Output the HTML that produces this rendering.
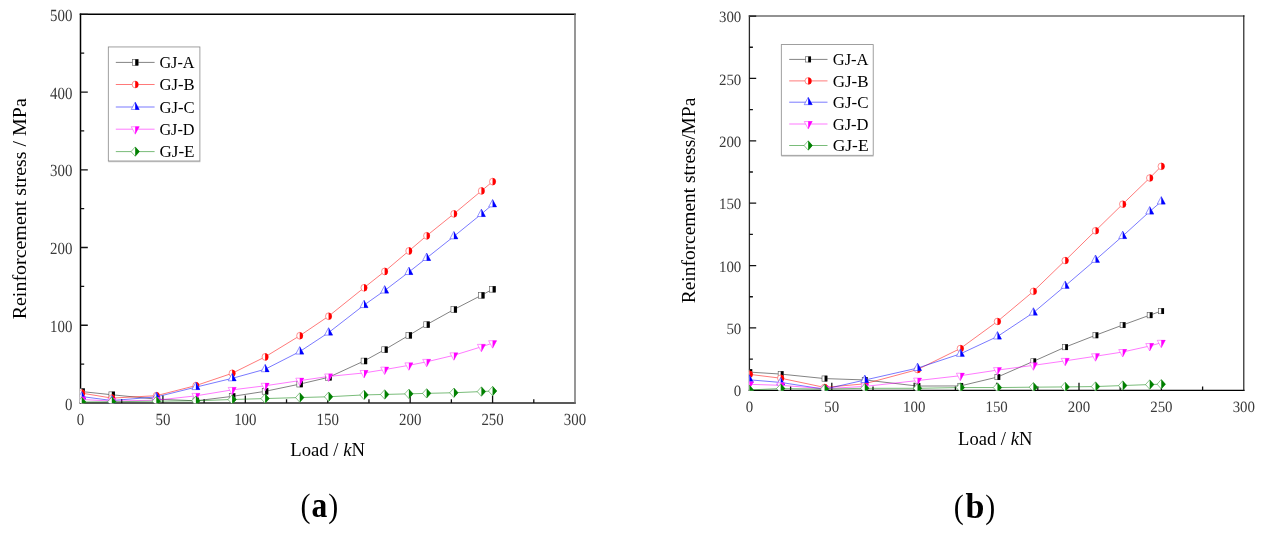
<!DOCTYPE html>
<html lang="en"><head><meta charset="utf-8"><title>Reinforcement stress vs load</title>
<style>html,body{margin:0;padding:0;background:#fff}svg{display:block}</style></head><body>
<svg width="1266" height="538" viewBox="0 0 1266 538">
<rect width="1266" height="538" fill="#fff"/>
<g id="chart-a">
<clipPath id="clipa"><rect x="79.95" y="14.3" width="495.05" height="389.05"/></clipPath>
<path d="M80.5 13.55V403.75" stroke="#000" stroke-width="1.5"/>
<path d="M79.75 403H575.75" stroke="#222" stroke-width="1.35"/>
<path d="M79.75 14.3H575.75" stroke="#000" stroke-width="1.5"/>
<path d="M575 13.55V403.75" stroke="#6a6a6a" stroke-width="1.4"/>
<path d="M121.71 403v-3.8M162.92 403v-7.6M204.12 403v-3.8M245.33 403v-7.6M286.54 403v-3.8M327.75 403v-7.6M368.96 403v-3.8M410.17 403v-7.6M451.38 403v-3.8M492.58 403v-7.6M533.79 403v-3.8M80.5 364.13h3.7M80.5 325.26h7.3M80.5 286.39h3.7M80.5 247.52h7.3M80.5 208.65h3.7M80.5 169.78h7.3M80.5 130.91h3.7M80.5 92.04h7.3M80.5 53.17h3.7M80.5 14.3h7.3" stroke="#111" stroke-width="1.3" fill="none"/>
<g clip-path="url(#clipa)">
<polyline points="81.74,391.57 111.82,394.76 156.32,399.11 195.88,400.82 232.15,396.39 265.11,391.34 299.73,384.11 328.57,377.35 364.01,361.02 384.62,349.67 408.85,335.37 426.65,324.64 453.85,309.56 481.37,295.33 492.58,289.27" fill="none" stroke="#000" stroke-opacity="0.7" stroke-width="0.7"/>
<rect x="78.84" y="388.67" width="5.8" height="5.8" fill="#fff" stroke="#555" stroke-width="0.6"/><rect x="81.74" y="388.47" width="3.1" height="6.2" fill="#000"/><rect x="108.92" y="391.86" width="5.8" height="5.8" fill="#fff" stroke="#555" stroke-width="0.6"/><rect x="111.82" y="391.66" width="3.1" height="6.2" fill="#000"/><rect x="153.42" y="396.21" width="5.8" height="5.8" fill="#fff" stroke="#555" stroke-width="0.6"/><rect x="156.32" y="396.01" width="3.1" height="6.2" fill="#000"/><rect x="192.98" y="397.92" width="5.8" height="5.8" fill="#fff" stroke="#555" stroke-width="0.6"/><rect x="195.88" y="397.72" width="3.1" height="6.2" fill="#000"/><rect x="229.25" y="393.49" width="5.8" height="5.8" fill="#fff" stroke="#555" stroke-width="0.6"/><rect x="232.15" y="393.29" width="3.1" height="6.2" fill="#000"/><rect x="262.21" y="388.44" width="5.8" height="5.8" fill="#fff" stroke="#555" stroke-width="0.6"/><rect x="265.11" y="388.24" width="3.1" height="6.2" fill="#000"/><rect x="296.83" y="381.21" width="5.8" height="5.8" fill="#fff" stroke="#555" stroke-width="0.6"/><rect x="299.73" y="381.01" width="3.1" height="6.2" fill="#000"/><rect x="325.67" y="374.45" width="5.8" height="5.8" fill="#fff" stroke="#555" stroke-width="0.6"/><rect x="328.57" y="374.25" width="3.1" height="6.2" fill="#000"/><rect x="361.11" y="358.12" width="5.8" height="5.8" fill="#fff" stroke="#555" stroke-width="0.6"/><rect x="364.01" y="357.92" width="3.1" height="6.2" fill="#000"/><rect x="381.72" y="346.77" width="5.8" height="5.8" fill="#fff" stroke="#555" stroke-width="0.6"/><rect x="384.62" y="346.57" width="3.1" height="6.2" fill="#000"/><rect x="405.95" y="332.47" width="5.8" height="5.8" fill="#fff" stroke="#555" stroke-width="0.6"/><rect x="408.85" y="332.27" width="3.1" height="6.2" fill="#000"/><rect x="423.75" y="321.74" width="5.8" height="5.8" fill="#fff" stroke="#555" stroke-width="0.6"/><rect x="426.65" y="321.54" width="3.1" height="6.2" fill="#000"/><rect x="450.95" y="306.66" width="5.8" height="5.8" fill="#fff" stroke="#555" stroke-width="0.6"/><rect x="453.85" y="306.46" width="3.1" height="6.2" fill="#000"/><rect x="478.47" y="292.43" width="5.8" height="5.8" fill="#fff" stroke="#555" stroke-width="0.6"/><rect x="481.37" y="292.23" width="3.1" height="6.2" fill="#000"/><rect x="489.68" y="286.37" width="5.8" height="5.8" fill="#fff" stroke="#555" stroke-width="0.6"/><rect x="492.58" y="286.17" width="3.1" height="6.2" fill="#000"/>
<polyline points="81.74,393.13 111.82,398.1 156.32,395.69 195.88,385.59 232.15,373.3 265.11,356.9 299.73,335.75 328.57,316.24 364.01,287.79 384.62,271.46 408.85,250.94 426.65,235.78 453.85,213.86 481.37,190.93 492.58,181.6" fill="none" stroke="#f00" stroke-opacity="0.7" stroke-width="0.75"/>
<ellipse cx="81.74" cy="393.13" rx="3.05" ry="3.4" fill="#fff" stroke="#ff4a4a" stroke-width="0.6"/><path d="M81.74 389.53A3.25 3.6 0 0 1 81.74 396.73Z" fill="#f00"/><ellipse cx="111.82" cy="398.1" rx="3.05" ry="3.4" fill="#fff" stroke="#ff4a4a" stroke-width="0.6"/><path d="M111.82 394.5A3.25 3.6 0 0 1 111.82 401.7Z" fill="#f00"/><ellipse cx="156.32" cy="395.69" rx="3.05" ry="3.4" fill="#fff" stroke="#ff4a4a" stroke-width="0.6"/><path d="M156.32 392.09A3.25 3.6 0 0 1 156.32 399.29Z" fill="#f00"/><ellipse cx="195.88" cy="385.59" rx="3.05" ry="3.4" fill="#fff" stroke="#ff4a4a" stroke-width="0.6"/><path d="M195.88 381.99A3.25 3.6 0 0 1 195.88 389.19Z" fill="#f00"/><ellipse cx="232.15" cy="373.3" rx="3.05" ry="3.4" fill="#fff" stroke="#ff4a4a" stroke-width="0.6"/><path d="M232.15 369.7A3.25 3.6 0 0 1 232.15 376.9Z" fill="#f00"/><ellipse cx="265.11" cy="356.9" rx="3.05" ry="3.4" fill="#fff" stroke="#ff4a4a" stroke-width="0.6"/><path d="M265.11 353.3A3.25 3.6 0 0 1 265.11 360.5Z" fill="#f00"/><ellipse cx="299.73" cy="335.75" rx="3.05" ry="3.4" fill="#fff" stroke="#ff4a4a" stroke-width="0.6"/><path d="M299.73 332.15A3.25 3.6 0 0 1 299.73 339.35Z" fill="#f00"/><ellipse cx="328.57" cy="316.24" rx="3.05" ry="3.4" fill="#fff" stroke="#ff4a4a" stroke-width="0.6"/><path d="M328.57 312.64A3.25 3.6 0 0 1 328.57 319.84Z" fill="#f00"/><ellipse cx="364.01" cy="287.79" rx="3.05" ry="3.4" fill="#fff" stroke="#ff4a4a" stroke-width="0.6"/><path d="M364.01 284.19A3.25 3.6 0 0 1 364.01 291.39Z" fill="#f00"/><ellipse cx="384.62" cy="271.46" rx="3.05" ry="3.4" fill="#fff" stroke="#ff4a4a" stroke-width="0.6"/><path d="M384.62 267.86A3.25 3.6 0 0 1 384.62 275.06Z" fill="#f00"/><ellipse cx="408.85" cy="250.94" rx="3.05" ry="3.4" fill="#fff" stroke="#ff4a4a" stroke-width="0.6"/><path d="M408.85 247.34A3.25 3.6 0 0 1 408.85 254.54Z" fill="#f00"/><ellipse cx="426.65" cy="235.78" rx="3.05" ry="3.4" fill="#fff" stroke="#ff4a4a" stroke-width="0.6"/><path d="M426.65 232.18A3.25 3.6 0 0 1 426.65 239.38Z" fill="#f00"/><ellipse cx="453.85" cy="213.86" rx="3.05" ry="3.4" fill="#fff" stroke="#ff4a4a" stroke-width="0.6"/><path d="M453.85 210.26A3.25 3.6 0 0 1 453.85 217.46Z" fill="#f00"/><ellipse cx="481.37" cy="190.93" rx="3.05" ry="3.4" fill="#fff" stroke="#ff4a4a" stroke-width="0.6"/><path d="M481.37 187.33A3.25 3.6 0 0 1 481.37 194.53Z" fill="#f00"/><ellipse cx="492.58" cy="181.6" rx="3.05" ry="3.4" fill="#fff" stroke="#ff4a4a" stroke-width="0.6"/><path d="M492.58 178A3.25 3.6 0 0 1 492.58 185.2Z" fill="#f00"/>
<polyline points="81.74,396.55 111.82,400.51 156.32,396.94 195.88,387.14 232.15,378.35 265.11,369.25 299.73,351.61 328.57,332.64 364.01,305.12 384.62,290.58 408.85,272.08 426.65,258.01 453.85,236.4 481.37,214.09 492.58,204.45" fill="none" stroke="#00f" stroke-opacity="0.7" stroke-width="0.75"/>
<path d="M81.74 391.61L85.69 399.01L77.79 399.01Z" fill="#fff" stroke="#4a4aff" stroke-width="0.6"/><path d="M81.74 391.31L85.99 399.21L81.74 399.21Z" fill="#00f"/><path d="M111.82 395.58L115.77 402.98L107.87 402.98Z" fill="#fff" stroke="#4a4aff" stroke-width="0.6"/><path d="M111.82 395.28L116.07 403.18L111.82 403.18Z" fill="#00f"/><path d="M156.32 392L160.27 399.4L152.37 399.4Z" fill="#fff" stroke="#4a4aff" stroke-width="0.6"/><path d="M156.32 391.7L160.57 399.6L156.32 399.6Z" fill="#00f"/><path d="M195.88 382.21L199.83 389.61L191.93 389.61Z" fill="#fff" stroke="#4a4aff" stroke-width="0.6"/><path d="M195.88 381.91L200.13 389.81L195.88 389.81Z" fill="#00f"/><path d="M232.15 373.42L236.1 380.82L228.2 380.82Z" fill="#fff" stroke="#4a4aff" stroke-width="0.6"/><path d="M232.15 373.12L236.4 381.02L232.15 381.02Z" fill="#00f"/><path d="M265.11 364.32L269.06 371.72L261.16 371.72Z" fill="#fff" stroke="#4a4aff" stroke-width="0.6"/><path d="M265.11 364.02L269.36 371.92L265.11 371.92Z" fill="#00f"/><path d="M299.73 346.67L303.68 354.07L295.78 354.07Z" fill="#fff" stroke="#4a4aff" stroke-width="0.6"/><path d="M299.73 346.37L303.98 354.27L299.73 354.27Z" fill="#00f"/><path d="M328.57 327.71L332.52 335.11L324.62 335.11Z" fill="#fff" stroke="#4a4aff" stroke-width="0.6"/><path d="M328.57 327.41L332.82 335.31L328.57 335.31Z" fill="#00f"/><path d="M364.01 300.19L367.96 307.59L360.06 307.59Z" fill="#fff" stroke="#4a4aff" stroke-width="0.6"/><path d="M364.01 299.89L368.26 307.79L364.01 307.79Z" fill="#00f"/><path d="M384.62 285.65L388.57 293.05L380.67 293.05Z" fill="#fff" stroke="#4a4aff" stroke-width="0.6"/><path d="M384.62 285.35L388.87 293.25L384.62 293.25Z" fill="#00f"/><path d="M408.85 267.15L412.8 274.55L404.9 274.55Z" fill="#fff" stroke="#4a4aff" stroke-width="0.6"/><path d="M408.85 266.85L413.1 274.75L408.85 274.75Z" fill="#00f"/><path d="M426.65 253.07L430.6 260.47L422.7 260.47Z" fill="#fff" stroke="#4a4aff" stroke-width="0.6"/><path d="M426.65 252.77L430.9 260.67L426.65 260.67Z" fill="#00f"/><path d="M453.85 231.46L457.8 238.86L449.9 238.86Z" fill="#fff" stroke="#4a4aff" stroke-width="0.6"/><path d="M453.85 231.16L458.1 239.06L453.85 239.06Z" fill="#00f"/><path d="M481.37 209.15L485.32 216.55L477.42 216.55Z" fill="#fff" stroke="#4a4aff" stroke-width="0.6"/><path d="M481.37 208.85L485.62 216.75L481.37 216.75Z" fill="#00f"/><path d="M492.58 199.51L496.53 206.91L488.63 206.91Z" fill="#fff" stroke="#4a4aff" stroke-width="0.6"/><path d="M492.58 199.21L496.83 207.11L492.58 207.11Z" fill="#00f"/>
<polyline points="81.74,399.5 111.82,401.06 156.32,400.2 195.88,395.85 232.15,389.89 265.11,385.77 299.73,380.64 328.57,376.45 364.01,372.95 384.62,369.6 408.85,365.33 426.65,361.83 453.85,355.3 481.37,346.83 492.58,343.17" fill="none" stroke="#f0f" stroke-opacity="0.7" stroke-width="0.75"/>
<path d="M81.74 404.44L85.69 397.04L77.79 397.04Z" fill="#fff" stroke="#ff4aff" stroke-width="0.6"/><path d="M81.74 404.74L85.99 396.84L81.74 396.84Z" fill="#f0f"/><path d="M111.82 405.99L115.77 398.59L107.87 398.59Z" fill="#fff" stroke="#ff4aff" stroke-width="0.6"/><path d="M111.82 406.29L116.07 398.39L111.82 398.39Z" fill="#f0f"/><path d="M156.32 405.13L160.27 397.73L152.37 397.73Z" fill="#fff" stroke="#ff4aff" stroke-width="0.6"/><path d="M156.32 405.43L160.57 397.53L156.32 397.53Z" fill="#f0f"/><path d="M195.88 400.78L199.83 393.38L191.93 393.38Z" fill="#fff" stroke="#ff4aff" stroke-width="0.6"/><path d="M195.88 401.08L200.13 393.18L195.88 393.18Z" fill="#f0f"/><path d="M232.15 394.83L236.1 387.43L228.2 387.43Z" fill="#fff" stroke="#ff4aff" stroke-width="0.6"/><path d="M232.15 395.13L236.4 387.23L232.15 387.23Z" fill="#f0f"/><path d="M265.11 390.71L269.06 383.31L261.16 383.31Z" fill="#fff" stroke="#ff4aff" stroke-width="0.6"/><path d="M265.11 391.01L269.36 383.11L265.11 383.11Z" fill="#f0f"/><path d="M299.73 385.58L303.68 378.18L295.78 378.18Z" fill="#fff" stroke="#ff4aff" stroke-width="0.6"/><path d="M299.73 385.88L303.98 377.98L299.73 377.98Z" fill="#f0f"/><path d="M328.57 381.38L332.52 373.98L324.62 373.98Z" fill="#fff" stroke="#ff4aff" stroke-width="0.6"/><path d="M328.57 381.68L332.82 373.78L328.57 373.78Z" fill="#f0f"/><path d="M364.01 377.88L367.96 370.48L360.06 370.48Z" fill="#fff" stroke="#ff4aff" stroke-width="0.6"/><path d="M364.01 378.18L368.26 370.28L364.01 370.28Z" fill="#f0f"/><path d="M384.62 374.54L388.57 367.14L380.67 367.14Z" fill="#fff" stroke="#ff4aff" stroke-width="0.6"/><path d="M384.62 374.84L388.87 366.94L384.62 366.94Z" fill="#f0f"/><path d="M408.85 370.26L412.8 362.86L404.9 362.86Z" fill="#fff" stroke="#ff4aff" stroke-width="0.6"/><path d="M408.85 370.56L413.1 362.66L408.85 362.66Z" fill="#f0f"/><path d="M426.65 366.76L430.6 359.36L422.7 359.36Z" fill="#fff" stroke="#ff4aff" stroke-width="0.6"/><path d="M426.65 367.06L430.9 359.16L426.65 359.16Z" fill="#f0f"/><path d="M453.85 360.23L457.8 352.83L449.9 352.83Z" fill="#fff" stroke="#ff4aff" stroke-width="0.6"/><path d="M453.85 360.53L458.1 352.63L453.85 352.63Z" fill="#f0f"/><path d="M481.37 351.76L485.32 344.36L477.42 344.36Z" fill="#fff" stroke="#ff4aff" stroke-width="0.6"/><path d="M481.37 352.06L485.62 344.16L481.37 344.16Z" fill="#f0f"/><path d="M492.58 348.11L496.53 340.71L488.63 340.71Z" fill="#fff" stroke="#ff4aff" stroke-width="0.6"/><path d="M492.58 348.41L496.83 340.51L492.58 340.51Z" fill="#f0f"/>
<polyline points="81.74,401.99 111.82,401.76 156.32,401.13 195.88,400.82 232.15,399.5 265.11,398.57 299.73,397.56 328.57,396.78 364.01,394.92 384.62,394.45 408.85,393.83 426.65,393.36 453.85,392.74 481.37,391.57 492.58,391.03" fill="none" stroke="#008000" stroke-opacity="0.7" stroke-width="0.75"/>
<path d="M81.74 397.34L85.89 401.99L81.74 406.64L77.59 401.99Z" fill="#fff" stroke="#3f9a3f" stroke-width="0.6"/><path d="M81.74 397.04L86.19 401.99L81.74 406.94Z" fill="#008000"/><path d="M111.82 397.11L115.97 401.76L111.82 406.41L107.67 401.76Z" fill="#fff" stroke="#3f9a3f" stroke-width="0.6"/><path d="M111.82 396.81L116.27 401.76L111.82 406.71Z" fill="#008000"/><path d="M156.32 396.48L160.47 401.13L156.32 405.78L152.17 401.13Z" fill="#fff" stroke="#3f9a3f" stroke-width="0.6"/><path d="M156.32 396.18L160.77 401.13L156.32 406.08Z" fill="#008000"/><path d="M195.88 396.17L200.03 400.82L195.88 405.47L191.73 400.82Z" fill="#fff" stroke="#3f9a3f" stroke-width="0.6"/><path d="M195.88 395.87L200.33 400.82L195.88 405.77Z" fill="#008000"/><path d="M232.15 394.85L236.3 399.5L232.15 404.15L228 399.5Z" fill="#fff" stroke="#3f9a3f" stroke-width="0.6"/><path d="M232.15 394.55L236.6 399.5L232.15 404.45Z" fill="#008000"/><path d="M265.11 393.92L269.26 398.57L265.11 403.22L260.96 398.57Z" fill="#fff" stroke="#3f9a3f" stroke-width="0.6"/><path d="M265.11 393.62L269.56 398.57L265.11 403.52Z" fill="#008000"/><path d="M299.73 392.91L303.88 397.56L299.73 402.21L295.58 397.56Z" fill="#fff" stroke="#3f9a3f" stroke-width="0.6"/><path d="M299.73 392.61L304.18 397.56L299.73 402.51Z" fill="#008000"/><path d="M328.57 392.13L332.72 396.78L328.57 401.43L324.42 396.78Z" fill="#fff" stroke="#3f9a3f" stroke-width="0.6"/><path d="M328.57 391.83L333.02 396.78L328.57 401.73Z" fill="#008000"/><path d="M364.01 390.27L368.16 394.92L364.01 399.57L359.86 394.92Z" fill="#fff" stroke="#3f9a3f" stroke-width="0.6"/><path d="M364.01 389.97L368.46 394.92L364.01 399.87Z" fill="#008000"/><path d="M384.62 389.8L388.77 394.45L384.62 399.1L380.47 394.45Z" fill="#fff" stroke="#3f9a3f" stroke-width="0.6"/><path d="M384.62 389.5L389.07 394.45L384.62 399.4Z" fill="#008000"/><path d="M408.85 389.18L413 393.83L408.85 398.48L404.7 393.83Z" fill="#fff" stroke="#3f9a3f" stroke-width="0.6"/><path d="M408.85 388.88L413.3 393.83L408.85 398.78Z" fill="#008000"/><path d="M426.65 388.71L430.8 393.36L426.65 398.01L422.5 393.36Z" fill="#fff" stroke="#3f9a3f" stroke-width="0.6"/><path d="M426.65 388.41L431.1 393.36L426.65 398.31Z" fill="#008000"/><path d="M453.85 388.09L458 392.74L453.85 397.39L449.7 392.74Z" fill="#fff" stroke="#3f9a3f" stroke-width="0.6"/><path d="M453.85 387.79L458.3 392.74L453.85 397.69Z" fill="#008000"/><path d="M481.37 386.92L485.52 391.57L481.37 396.22L477.22 391.57Z" fill="#fff" stroke="#3f9a3f" stroke-width="0.6"/><path d="M481.37 386.62L485.82 391.57L481.37 396.52Z" fill="#008000"/><path d="M492.58 386.38L496.73 391.03L492.58 395.68L488.43 391.03Z" fill="#fff" stroke="#3f9a3f" stroke-width="0.6"/><path d="M492.58 386.08L497.03 391.03L492.58 395.98Z" fill="#008000"/>
</g>
<g font-family="Liberation Serif, serif" font-size="16" fill="#3a3a3a" text-rendering="geometricPrecision">
<text transform="translate(80.5 425.1) scale(0.931 1.063)" text-anchor="middle">0</text>
<text transform="translate(162.92 425.1) scale(0.931 1.063)" text-anchor="middle">50</text>
<text transform="translate(245.33 425.1) scale(0.931 1.063)" text-anchor="middle">100</text>
<text transform="translate(327.75 425.1) scale(0.931 1.063)" text-anchor="middle">150</text>
<text transform="translate(410.17 425.1) scale(0.931 1.063)" text-anchor="middle">200</text>
<text transform="translate(492.58 425.1) scale(0.931 1.063)" text-anchor="middle">250</text>
<text transform="translate(575 425.1) scale(0.931 1.063)" text-anchor="middle">300</text>
<text transform="translate(72.4 409.55) scale(0.931 1.063)" text-anchor="end">0</text>
<text transform="translate(72.4 331.81) scale(0.931 1.063)" text-anchor="end">100</text>
<text transform="translate(72.4 254.07) scale(0.931 1.063)" text-anchor="end">200</text>
<text transform="translate(72.4 176.33) scale(0.931 1.063)" text-anchor="end">300</text>
<text transform="translate(72.4 98.59) scale(0.931 1.063)" text-anchor="end">400</text>
<text transform="translate(72.4 20.85) scale(0.931 1.063)" text-anchor="end">500</text>
</g>
<rect x="108.3" y="46.95" width="91.6" height="114.05" fill="#fff" stroke="#888" stroke-width="0.8"/>
<path d="M108.3 161.7H200.3" fill="none" stroke="#aaa" stroke-width="0.9"/>
<g font-family="Liberation Serif, serif" font-size="17.4" fill="#000">
<path d="M115.8 62.4H154.6" stroke="#000" stroke-opacity="0.7" stroke-width="0.7"/>
<rect x="132.3" y="59.5" width="5.8" height="5.8" fill="#fff" stroke="#555" stroke-width="0.6"/><rect x="135.2" y="59.3" width="3.1" height="6.2" fill="#000"/>
<text x="159.4" y="68.1" textLength="35.2" lengthAdjust="spacingAndGlyphs">GJ-A</text>
<path d="M115.8 84.5H154.6" stroke="#f00" stroke-opacity="0.7" stroke-width="0.75"/>
<ellipse cx="135.2" cy="84.5" rx="3.05" ry="3.4" fill="#fff" stroke="#ff4a4a" stroke-width="0.6"/><path d="M135.2 80.9A3.25 3.6 0 0 1 135.2 88.1Z" fill="#f00"/>
<text x="159.4" y="90.2" textLength="35.2" lengthAdjust="spacingAndGlyphs">GJ-B</text>
<path d="M115.8 107H154.6" stroke="#00f" stroke-opacity="0.7" stroke-width="0.75"/>
<path d="M135.2 102.07L139.15 109.47L131.25 109.47Z" fill="#fff" stroke="#4a4aff" stroke-width="0.6"/><path d="M135.2 101.77L139.45 109.67L135.2 109.67Z" fill="#00f"/>
<text x="159.4" y="112.7" textLength="35.2" lengthAdjust="spacingAndGlyphs">GJ-C</text>
<path d="M115.8 129.2H154.6" stroke="#f0f" stroke-opacity="0.7" stroke-width="0.75"/>
<path d="M135.2 134.13L139.15 126.73L131.25 126.73Z" fill="#fff" stroke="#ff4aff" stroke-width="0.6"/><path d="M135.2 134.43L139.45 126.53L135.2 126.53Z" fill="#f0f"/>
<text x="159.4" y="134.9" textLength="35.2" lengthAdjust="spacingAndGlyphs">GJ-D</text>
<path d="M115.8 151.6H154.6" stroke="#008000" stroke-opacity="0.7" stroke-width="0.75"/>
<path d="M135.2 146.95L139.35 151.6L135.2 156.25L131.05 151.6Z" fill="#fff" stroke="#3f9a3f" stroke-width="0.6"/><path d="M135.2 146.65L139.65 151.6L135.2 156.55Z" fill="#008000"/>
<text x="159.4" y="157.3" textLength="35.2" lengthAdjust="spacingAndGlyphs">GJ-E</text>
</g>
<text transform="translate(25.6 319.3) rotate(-90)" font-family="Liberation Serif, serif" font-size="18.8" fill="#000" textLength="221.1" lengthAdjust="spacingAndGlyphs" xml:space="preserve">Reinforcement stress / MPa</text>
<text x="290.3" y="455.6" font-family="Liberation Serif, serif" font-size="19" fill="#000" textLength="74.7" lengthAdjust="spacingAndGlyphs" xml:space="preserve">Load / <tspan font-style="italic">k</tspan>N</text>
<g font-family="Liberation Serif, serif" fill="#000"><text x="300.4" y="517.4" font-size="34" textLength="10" lengthAdjust="spacingAndGlyphs">(</text><text x="311.6" y="517.4" font-size="36" font-weight="bold" textLength="15.8" lengthAdjust="spacingAndGlyphs">a</text><text x="328.3" y="517.4" font-size="34" textLength="10" lengthAdjust="spacingAndGlyphs">)</text></g>
</g>
<g id="chart-b">
<clipPath id="clipb"><rect x="748.85" y="16.05" width="494.95" height="374.6"/></clipPath>
<path d="M749.4 15.35V391" stroke="#2a2a2a" stroke-width="1.3"/>
<path d="M748.7 390.3H1244.5" stroke="#000" stroke-width="1.25"/>
<path d="M748.7 16.05H1244.5" stroke="#6e6e6e" stroke-width="1.4"/>
<path d="M1243.8 15.35V391" stroke="#111" stroke-width="1.1"/>
<path d="M790.6 390.3v-3.8M831.8 390.3v-7.6M873 390.3v-3.8M914.2 390.3v-7.6M955.4 390.3v-3.8M996.6 390.3v-7.6M1037.8 390.3v-3.8M1079 390.3v-7.6M1120.2 390.3v-3.8M1161.4 390.3v-7.6M1202.6 390.3v-3.8M749.4 359.11h3.5M749.4 327.93h6.8M749.4 296.74h3.5M749.4 265.55h6.8M749.4 234.36h3.5M749.4 203.18h6.8M749.4 171.99h3.5M749.4 140.8h6.8M749.4 109.61h3.5M749.4 78.43h6.8M749.4 47.24h3.5M749.4 16.05h6.8" stroke="#111" stroke-width="1.3" fill="none"/>
<g clip-path="url(#clipb)">
<polyline points="749.4,372.09 780.71,374.08 824.55,378.57 864.76,379.95 917.5,386.06 960.34,385.93 997.42,377.08 1033.35,361.36 1065.16,347.14 1095.48,335.29 1122.67,325.06 1149.7,315.2 1161.24,311.08" fill="none" stroke="#000" stroke-opacity="0.7" stroke-width="0.7"/>
<rect x="746.85" y="369.44" width="5.1" height="5.3" fill="#fff" stroke="#555" stroke-width="0.6"/><rect x="749.4" y="369.24" width="2.75" height="5.7" fill="#000"/><rect x="778.16" y="371.43" width="5.1" height="5.3" fill="#fff" stroke="#555" stroke-width="0.6"/><rect x="780.71" y="371.23" width="2.75" height="5.7" fill="#000"/><rect x="822" y="375.92" width="5.1" height="5.3" fill="#fff" stroke="#555" stroke-width="0.6"/><rect x="824.55" y="375.72" width="2.75" height="5.7" fill="#000"/><rect x="862.21" y="377.3" width="5.1" height="5.3" fill="#fff" stroke="#555" stroke-width="0.6"/><rect x="864.76" y="377.1" width="2.75" height="5.7" fill="#000"/><rect x="914.95" y="383.41" width="5.1" height="5.3" fill="#fff" stroke="#555" stroke-width="0.6"/><rect x="917.5" y="383.21" width="2.75" height="5.7" fill="#000"/><rect x="957.79" y="383.28" width="5.1" height="5.3" fill="#fff" stroke="#555" stroke-width="0.6"/><rect x="960.34" y="383.08" width="2.75" height="5.7" fill="#000"/><rect x="994.87" y="374.43" width="5.1" height="5.3" fill="#fff" stroke="#555" stroke-width="0.6"/><rect x="997.42" y="374.23" width="2.75" height="5.7" fill="#000"/><rect x="1030.8" y="358.71" width="5.1" height="5.3" fill="#fff" stroke="#555" stroke-width="0.6"/><rect x="1033.35" y="358.51" width="2.75" height="5.7" fill="#000"/><rect x="1062.61" y="344.49" width="5.1" height="5.3" fill="#fff" stroke="#555" stroke-width="0.6"/><rect x="1065.16" y="344.29" width="2.75" height="5.7" fill="#000"/><rect x="1092.93" y="332.64" width="5.1" height="5.3" fill="#fff" stroke="#555" stroke-width="0.6"/><rect x="1095.48" y="332.44" width="2.75" height="5.7" fill="#000"/><rect x="1120.12" y="322.41" width="5.1" height="5.3" fill="#fff" stroke="#555" stroke-width="0.6"/><rect x="1122.67" y="322.21" width="2.75" height="5.7" fill="#000"/><rect x="1147.15" y="312.55" width="5.1" height="5.3" fill="#fff" stroke="#555" stroke-width="0.6"/><rect x="1149.7" y="312.35" width="2.75" height="5.7" fill="#000"/><rect x="1158.69" y="308.43" width="5.1" height="5.3" fill="#fff" stroke="#555" stroke-width="0.6"/><rect x="1161.24" y="308.23" width="2.75" height="5.7" fill="#000"/>
<polyline points="749.4,374.33 780.71,378.2 824.55,387.43 864.76,383.81 917.5,369.59 960.34,348.51 997.42,321.44 1033.35,291.37 1065.16,260.56 1095.48,230.74 1122.67,204.17 1149.7,177.98 1161.24,166.37" fill="none" stroke="#f00" stroke-opacity="0.7" stroke-width="0.75"/>
<ellipse cx="749.4" cy="374.33" rx="3.2" ry="3.3" fill="#fff" stroke="#ff4a4a" stroke-width="0.6"/><path d="M749.4 370.83A3.4000000000000004 3.5 0 0 1 749.4 377.83Z" fill="#f00"/><ellipse cx="780.71" cy="378.2" rx="3.2" ry="3.3" fill="#fff" stroke="#ff4a4a" stroke-width="0.6"/><path d="M780.71 374.7A3.4000000000000004 3.5 0 0 1 780.71 381.7Z" fill="#f00"/><ellipse cx="824.55" cy="387.43" rx="3.2" ry="3.3" fill="#fff" stroke="#ff4a4a" stroke-width="0.6"/><path d="M824.55 383.93A3.4000000000000004 3.5 0 0 1 824.55 390.93Z" fill="#f00"/><ellipse cx="864.76" cy="383.81" rx="3.2" ry="3.3" fill="#fff" stroke="#ff4a4a" stroke-width="0.6"/><path d="M864.76 380.31A3.4000000000000004 3.5 0 0 1 864.76 387.31Z" fill="#f00"/><ellipse cx="917.5" cy="369.59" rx="3.2" ry="3.3" fill="#fff" stroke="#ff4a4a" stroke-width="0.6"/><path d="M917.5 366.09A3.4000000000000004 3.5 0 0 1 917.5 373.09Z" fill="#f00"/><ellipse cx="960.34" cy="348.51" rx="3.2" ry="3.3" fill="#fff" stroke="#ff4a4a" stroke-width="0.6"/><path d="M960.34 345.01A3.4000000000000004 3.5 0 0 1 960.34 352.01Z" fill="#f00"/><ellipse cx="997.42" cy="321.44" rx="3.2" ry="3.3" fill="#fff" stroke="#ff4a4a" stroke-width="0.6"/><path d="M997.42 317.94A3.4000000000000004 3.5 0 0 1 997.42 324.94Z" fill="#f00"/><ellipse cx="1033.35" cy="291.37" rx="3.2" ry="3.3" fill="#fff" stroke="#ff4a4a" stroke-width="0.6"/><path d="M1033.35 287.87A3.4000000000000004 3.5 0 0 1 1033.35 294.87Z" fill="#f00"/><ellipse cx="1065.16" cy="260.56" rx="3.2" ry="3.3" fill="#fff" stroke="#ff4a4a" stroke-width="0.6"/><path d="M1065.16 257.06A3.4000000000000004 3.5 0 0 1 1065.16 264.06Z" fill="#f00"/><ellipse cx="1095.48" cy="230.74" rx="3.2" ry="3.3" fill="#fff" stroke="#ff4a4a" stroke-width="0.6"/><path d="M1095.48 227.24A3.4000000000000004 3.5 0 0 1 1095.48 234.24Z" fill="#f00"/><ellipse cx="1122.67" cy="204.17" rx="3.2" ry="3.3" fill="#fff" stroke="#ff4a4a" stroke-width="0.6"/><path d="M1122.67 200.67A3.4000000000000004 3.5 0 0 1 1122.67 207.67Z" fill="#f00"/><ellipse cx="1149.7" cy="177.98" rx="3.2" ry="3.3" fill="#fff" stroke="#ff4a4a" stroke-width="0.6"/><path d="M1149.7 174.48A3.4000000000000004 3.5 0 0 1 1149.7 181.48Z" fill="#f00"/><ellipse cx="1161.24" cy="166.37" rx="3.2" ry="3.3" fill="#fff" stroke="#ff4a4a" stroke-width="0.6"/><path d="M1161.24 162.87A3.4000000000000004 3.5 0 0 1 1161.24 169.87Z" fill="#f00"/>
<polyline points="749.4,379.82 780.71,382.44 824.55,389.18 864.76,380.06 917.5,368.09 960.34,353.86 997.42,336.52 1033.35,312.7 1065.16,285.88 1095.48,259.93 1122.67,236.1 1149.7,211.52 1161.24,201.54" fill="none" stroke="#00f" stroke-opacity="0.7" stroke-width="0.75"/>
<path d="M749.4 374.89L753.35 382.29L745.45 382.29Z" fill="#fff" stroke="#4a4aff" stroke-width="0.6"/><path d="M749.4 374.59L753.65 382.49L749.4 382.49Z" fill="#00f"/><path d="M780.71 377.51L784.66 384.91L776.76 384.91Z" fill="#fff" stroke="#4a4aff" stroke-width="0.6"/><path d="M780.71 377.21L784.96 385.11L780.71 385.11Z" fill="#00f"/><path d="M824.55 384.24L828.5 391.64L820.6 391.64Z" fill="#fff" stroke="#4a4aff" stroke-width="0.6"/><path d="M824.55 383.94L828.8 391.84L824.55 391.84Z" fill="#00f"/><path d="M864.76 375.13L868.71 382.53L860.81 382.53Z" fill="#fff" stroke="#4a4aff" stroke-width="0.6"/><path d="M864.76 374.83L869.01 382.73L864.76 382.73Z" fill="#00f"/><path d="M917.5 363.15L921.45 370.55L913.55 370.55Z" fill="#fff" stroke="#4a4aff" stroke-width="0.6"/><path d="M917.5 362.85L921.75 370.75L917.5 370.75Z" fill="#00f"/><path d="M960.34 348.93L964.29 356.33L956.39 356.33Z" fill="#fff" stroke="#4a4aff" stroke-width="0.6"/><path d="M960.34 348.63L964.59 356.53L960.34 356.53Z" fill="#00f"/><path d="M997.42 331.59L1001.37 338.99L993.47 338.99Z" fill="#fff" stroke="#4a4aff" stroke-width="0.6"/><path d="M997.42 331.29L1001.67 339.19L997.42 339.19Z" fill="#00f"/><path d="M1033.35 307.76L1037.3 315.16L1029.4 315.16Z" fill="#fff" stroke="#4a4aff" stroke-width="0.6"/><path d="M1033.35 307.46L1037.6 315.36L1033.35 315.36Z" fill="#00f"/><path d="M1065.16 280.94L1069.11 288.34L1061.21 288.34Z" fill="#fff" stroke="#4a4aff" stroke-width="0.6"/><path d="M1065.16 280.64L1069.41 288.54L1065.16 288.54Z" fill="#00f"/><path d="M1095.48 254.99L1099.43 262.39L1091.53 262.39Z" fill="#fff" stroke="#4a4aff" stroke-width="0.6"/><path d="M1095.48 254.69L1099.73 262.59L1095.48 262.59Z" fill="#00f"/><path d="M1122.67 231.17L1126.62 238.57L1118.72 238.57Z" fill="#fff" stroke="#4a4aff" stroke-width="0.6"/><path d="M1122.67 230.87L1126.92 238.77L1122.67 238.77Z" fill="#00f"/><path d="M1149.7 206.59L1153.65 213.99L1145.75 213.99Z" fill="#fff" stroke="#4a4aff" stroke-width="0.6"/><path d="M1149.7 206.29L1153.95 214.19L1149.7 214.19Z" fill="#00f"/><path d="M1161.24 196.61L1165.19 204.01L1157.29 204.01Z" fill="#fff" stroke="#4a4aff" stroke-width="0.6"/><path d="M1161.24 196.31L1165.49 204.21L1161.24 204.21Z" fill="#00f"/>
<polyline points="749.4,384.31 780.71,385.31 824.55,388.68 864.76,386.43 917.5,380.57 960.34,375.71 997.42,370.09 1033.35,365.35 1065.16,360.86 1095.48,356.25 1122.67,352 1149.7,346.02 1161.24,342.77" fill="none" stroke="#f0f" stroke-opacity="0.7" stroke-width="0.75"/>
<path d="M749.4 389.25L753.35 381.85L745.45 381.85Z" fill="#fff" stroke="#ff4aff" stroke-width="0.6"/><path d="M749.4 389.55L753.65 381.65L749.4 381.65Z" fill="#f0f"/><path d="M780.71 390.24L784.66 382.84L776.76 382.84Z" fill="#fff" stroke="#ff4aff" stroke-width="0.6"/><path d="M780.71 390.54L784.96 382.64L780.71 382.64Z" fill="#f0f"/><path d="M824.55 393.61L828.5 386.21L820.6 386.21Z" fill="#fff" stroke="#ff4aff" stroke-width="0.6"/><path d="M824.55 393.91L828.8 386.01L824.55 386.01Z" fill="#f0f"/><path d="M864.76 391.37L868.71 383.97L860.81 383.97Z" fill="#fff" stroke="#ff4aff" stroke-width="0.6"/><path d="M864.76 391.67L869.01 383.77L864.76 383.77Z" fill="#f0f"/><path d="M917.5 385.5L921.45 378.1L913.55 378.1Z" fill="#fff" stroke="#ff4aff" stroke-width="0.6"/><path d="M917.5 385.8L921.75 377.9L917.5 377.9Z" fill="#f0f"/><path d="M960.34 380.64L964.29 373.24L956.39 373.24Z" fill="#fff" stroke="#ff4aff" stroke-width="0.6"/><path d="M960.34 380.94L964.59 373.04L960.34 373.04Z" fill="#f0f"/><path d="M997.42 375.03L1001.37 367.63L993.47 367.63Z" fill="#fff" stroke="#ff4aff" stroke-width="0.6"/><path d="M997.42 375.33L1001.67 367.43L997.42 367.43Z" fill="#f0f"/><path d="M1033.35 370.29L1037.3 362.89L1029.4 362.89Z" fill="#fff" stroke="#ff4aff" stroke-width="0.6"/><path d="M1033.35 370.59L1037.6 362.69L1033.35 362.69Z" fill="#f0f"/><path d="M1065.16 365.79L1069.11 358.39L1061.21 358.39Z" fill="#fff" stroke="#ff4aff" stroke-width="0.6"/><path d="M1065.16 366.09L1069.41 358.19L1065.16 358.19Z" fill="#f0f"/><path d="M1095.48 361.18L1099.43 353.78L1091.53 353.78Z" fill="#fff" stroke="#ff4aff" stroke-width="0.6"/><path d="M1095.48 361.48L1099.73 353.58L1095.48 353.58Z" fill="#f0f"/><path d="M1122.67 356.94L1126.62 349.54L1118.72 349.54Z" fill="#fff" stroke="#ff4aff" stroke-width="0.6"/><path d="M1122.67 357.24L1126.92 349.34L1122.67 349.34Z" fill="#f0f"/><path d="M1149.7 350.95L1153.65 343.55L1145.75 343.55Z" fill="#fff" stroke="#ff4aff" stroke-width="0.6"/><path d="M1149.7 351.25L1153.95 343.35L1149.7 343.35Z" fill="#f0f"/><path d="M1161.24 347.71L1165.19 340.31L1157.29 340.31Z" fill="#fff" stroke="#ff4aff" stroke-width="0.6"/><path d="M1161.24 348.01L1165.49 340.11L1161.24 340.11Z" fill="#f0f"/>
<polyline points="749.4,389.93 780.71,388.55 824.55,389.05 864.76,388.3 917.5,388.3 960.34,387.56 997.42,387.56 1033.35,387.18 1065.16,386.93 1095.48,386.56 1122.67,385.56 1149.7,384.56 1161.24,384.19" fill="none" stroke="#008000" stroke-opacity="0.7" stroke-width="0.75"/>
<path d="M749.4 385.28L753.55 389.93L749.4 394.58L745.25 389.93Z" fill="#fff" stroke="#3f9a3f" stroke-width="0.6"/><path d="M749.4 384.98L753.85 389.93L749.4 394.88Z" fill="#008000"/><path d="M780.71 383.9L784.86 388.55L780.71 393.2L776.56 388.55Z" fill="#fff" stroke="#3f9a3f" stroke-width="0.6"/><path d="M780.71 383.6L785.16 388.55L780.71 393.5Z" fill="#008000"/><path d="M824.55 384.4L828.7 389.05L824.55 393.7L820.4 389.05Z" fill="#fff" stroke="#3f9a3f" stroke-width="0.6"/><path d="M824.55 384.1L829 389.05L824.55 394Z" fill="#008000"/><path d="M864.76 383.65L868.91 388.3L864.76 392.95L860.61 388.3Z" fill="#fff" stroke="#3f9a3f" stroke-width="0.6"/><path d="M864.76 383.35L869.21 388.3L864.76 393.25Z" fill="#008000"/><path d="M917.5 383.65L921.65 388.3L917.5 392.95L913.35 388.3Z" fill="#fff" stroke="#3f9a3f" stroke-width="0.6"/><path d="M917.5 383.35L921.95 388.3L917.5 393.25Z" fill="#008000"/><path d="M960.34 382.91L964.49 387.56L960.34 392.21L956.19 387.56Z" fill="#fff" stroke="#3f9a3f" stroke-width="0.6"/><path d="M960.34 382.61L964.79 387.56L960.34 392.51Z" fill="#008000"/><path d="M997.42 382.91L1001.57 387.56L997.42 392.21L993.27 387.56Z" fill="#fff" stroke="#3f9a3f" stroke-width="0.6"/><path d="M997.42 382.61L1001.87 387.56L997.42 392.51Z" fill="#008000"/><path d="M1033.35 382.53L1037.5 387.18L1033.35 391.83L1029.2 387.18Z" fill="#fff" stroke="#3f9a3f" stroke-width="0.6"/><path d="M1033.35 382.23L1037.8 387.18L1033.35 392.13Z" fill="#008000"/><path d="M1065.16 382.28L1069.31 386.93L1065.16 391.58L1061.01 386.93Z" fill="#fff" stroke="#3f9a3f" stroke-width="0.6"/><path d="M1065.16 381.98L1069.61 386.93L1065.16 391.88Z" fill="#008000"/><path d="M1095.48 381.91L1099.63 386.56L1095.48 391.21L1091.33 386.56Z" fill="#fff" stroke="#3f9a3f" stroke-width="0.6"/><path d="M1095.48 381.61L1099.93 386.56L1095.48 391.51Z" fill="#008000"/><path d="M1122.67 380.91L1126.82 385.56L1122.67 390.21L1118.52 385.56Z" fill="#fff" stroke="#3f9a3f" stroke-width="0.6"/><path d="M1122.67 380.61L1127.12 385.56L1122.67 390.51Z" fill="#008000"/><path d="M1149.7 379.91L1153.85 384.56L1149.7 389.21L1145.55 384.56Z" fill="#fff" stroke="#3f9a3f" stroke-width="0.6"/><path d="M1149.7 379.61L1154.15 384.56L1149.7 389.51Z" fill="#008000"/><path d="M1161.24 379.54L1165.39 384.19L1161.24 388.84L1157.09 384.19Z" fill="#fff" stroke="#3f9a3f" stroke-width="0.6"/><path d="M1161.24 379.24L1165.69 384.19L1161.24 389.14Z" fill="#008000"/>
</g>
<g font-family="Liberation Serif, serif" font-size="16" fill="#3a3a3a" text-rendering="geometricPrecision">
<text transform="translate(749.4 411.55) scale(0.931 0.985)" text-anchor="middle">0</text>
<text transform="translate(831.8 411.55) scale(0.931 0.985)" text-anchor="middle">50</text>
<text transform="translate(914.2 411.55) scale(0.931 0.985)" text-anchor="middle">100</text>
<text transform="translate(996.6 411.55) scale(0.931 0.985)" text-anchor="middle">150</text>
<text transform="translate(1079 411.55) scale(0.931 0.985)" text-anchor="middle">200</text>
<text transform="translate(1161.4 411.55) scale(0.931 0.985)" text-anchor="middle">250</text>
<text transform="translate(1243.8 411.55) scale(0.931 0.985)" text-anchor="middle">300</text>
<text transform="translate(741.3 396.43) scale(0.931 0.985)" text-anchor="end">0</text>
<text transform="translate(741.3 334.05) scale(0.931 0.985)" text-anchor="end">50</text>
<text transform="translate(741.3 271.68) scale(0.931 0.985)" text-anchor="end">100</text>
<text transform="translate(741.3 209.3) scale(0.931 0.985)" text-anchor="end">150</text>
<text transform="translate(741.3 146.93) scale(0.931 0.985)" text-anchor="end">200</text>
<text transform="translate(741.3 84.55) scale(0.931 0.985)" text-anchor="end">250</text>
<text transform="translate(741.3 22.18) scale(0.931 0.985)" text-anchor="end">300</text>
</g>
<rect x="781.3" y="44.6" width="91.9" height="110.7" fill="#fff" stroke="#888" stroke-width="0.8"/>
<path d="M781.3 156H873.6" fill="none" stroke="#aaa" stroke-width="0.9"/>
<g font-family="Liberation Serif, serif" font-size="17.4" fill="#000">
<path d="M789.2 59.4H827.5" stroke="#000" stroke-opacity="0.7" stroke-width="0.7"/>
<rect x="805.65" y="56.75" width="5.1" height="5.3" fill="#fff" stroke="#555" stroke-width="0.6"/><rect x="808.2" y="56.55" width="2.75" height="5.7" fill="#000"/>
<text x="832.7" y="65.1" textLength="35.9" lengthAdjust="spacingAndGlyphs">GJ-A</text>
<path d="M789.2 80.9H827.5" stroke="#f00" stroke-opacity="0.7" stroke-width="0.75"/>
<ellipse cx="808.2" cy="80.9" rx="3.2" ry="3.3" fill="#fff" stroke="#ff4a4a" stroke-width="0.6"/><path d="M808.2 77.4A3.4000000000000004 3.5 0 0 1 808.2 84.4Z" fill="#f00"/>
<text x="832.7" y="86.6" textLength="35.9" lengthAdjust="spacingAndGlyphs">GJ-B</text>
<path d="M789.2 102.2H827.5" stroke="#00f" stroke-opacity="0.7" stroke-width="0.75"/>
<path d="M808.2 97.27L812.15 104.67L804.25 104.67Z" fill="#fff" stroke="#4a4aff" stroke-width="0.6"/><path d="M808.2 96.97L812.45 104.87L808.2 104.87Z" fill="#00f"/>
<text x="832.7" y="107.9" textLength="35.9" lengthAdjust="spacingAndGlyphs">GJ-C</text>
<path d="M789.2 124H827.5" stroke="#f0f" stroke-opacity="0.7" stroke-width="0.75"/>
<path d="M808.2 128.93L812.15 121.53L804.25 121.53Z" fill="#fff" stroke="#ff4aff" stroke-width="0.6"/><path d="M808.2 129.23L812.45 121.33L808.2 121.33Z" fill="#f0f"/>
<text x="832.7" y="129.7" textLength="35.9" lengthAdjust="spacingAndGlyphs">GJ-D</text>
<path d="M789.2 145.5H827.5" stroke="#008000" stroke-opacity="0.7" stroke-width="0.75"/>
<path d="M808.2 140.85L812.35 145.5L808.2 150.15L804.05 145.5Z" fill="#fff" stroke="#3f9a3f" stroke-width="0.6"/><path d="M808.2 140.55L812.65 145.5L808.2 150.45Z" fill="#008000"/>
<text x="832.7" y="151.2" textLength="35.9" lengthAdjust="spacingAndGlyphs">GJ-E</text>
</g>
<text transform="translate(694.8 303.2) rotate(-90)" font-family="Liberation Serif, serif" font-size="18.8" fill="#000" textLength="205.5" lengthAdjust="spacingAndGlyphs" xml:space="preserve">Reinforcement stress/MPa</text>
<text x="958.1" y="445" font-family="Liberation Serif, serif" font-size="19" fill="#000" textLength="74.2" lengthAdjust="spacingAndGlyphs" xml:space="preserve">Load / <tspan font-style="italic">k</tspan>N</text>
<g font-family="Liberation Serif, serif" fill="#000"><text x="953.8" y="517.6" font-size="34" textLength="10" lengthAdjust="spacingAndGlyphs">(</text><text x="965.6" y="517.6" font-size="36" font-weight="bold" textLength="18.9" lengthAdjust="spacingAndGlyphs">b</text><text x="985.2" y="517.6" font-size="34" textLength="10" lengthAdjust="spacingAndGlyphs">)</text></g>
</g>
</svg></body></html>
